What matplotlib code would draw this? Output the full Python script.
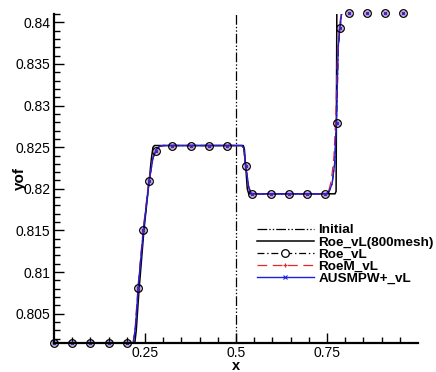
import numpy as np
import matplotlib
matplotlib.use("Agg")
import matplotlib.pyplot as plt
from matplotlib.lines import Line2D

plt.rcParams["font.family"] = ["Liberation Sans", "DejaVu Sans"]
plt.rcParams["lines.scale_dashes"] = False

# initial discontinuity
init_x = [0.5, 0.5]
init_y = [0.8015, 0.84115]

# Roe_vL on 800 cells
fine_x = [0.0, 0.222, 0.226, 0.233, 0.247, 0.262, 0.268, 0.272, 0.276,
          0.520, 0.523, 0.527, 0.531, 0.535, 0.772, 0.775, 0.776, 0.777, 1.0]
fine_y = [0.8015, 0.8015, 0.8030, 0.8075, 0.8150, 0.8212, 0.8238, 0.8250, 0.8252,
          0.8252, 0.8248, 0.8225, 0.8200, 0.8194, 0.8194, 0.8197, 0.8300, 0.84115, 0.84115]

# coarse mesh results
roe_x = [0.0, 0.218, 0.224, 0.232, 0.246, 0.261, 0.272, 0.280, 0.290, 0.300,
         0.516, 0.521, 0.527, 0.535, 0.541, 0.548, 0.748, 0.756, 0.764, 0.771,
         0.776, 0.781, 0.786, 0.790, 0.795, 1.0]
roe_y = [0.8015, 0.8015, 0.8034, 0.8084, 0.8151, 0.8208, 0.8237, 0.8246, 0.8251, 0.8252,
         0.8252, 0.8249, 0.8227, 0.8202, 0.8195, 0.8194, 0.8194, 0.8197, 0.8206, 0.8230,
         0.8279, 0.8370, 0.8393, 0.8410, 0.84115, 0.84115]

roem_x = [0.0, 0.217, 0.223, 0.231, 0.245, 0.260, 0.271, 0.279, 0.290, 0.300,
          0.516, 0.521, 0.527, 0.535, 0.541, 0.548, 0.747, 0.755, 0.762, 0.769,
          0.774, 0.779, 0.784, 0.789, 0.795, 1.0]
roem_y = [0.8015, 0.8015, 0.8033, 0.8084, 0.8151, 0.8208, 0.8236, 0.8247, 0.8251, 0.8252,
          0.8252, 0.8248, 0.8226, 0.8201, 0.8195, 0.8194, 0.8194, 0.8198, 0.8210, 0.8238,
          0.8285, 0.8365, 0.8395, 0.8410, 0.84115, 0.84115]

ausm_x = [0.0, 0.218, 0.224, 0.232, 0.246, 0.261, 0.272, 0.280, 0.290, 0.300,
          0.516, 0.521, 0.527, 0.535, 0.541, 0.548, 0.748, 0.756, 0.764, 0.771,
          0.776, 0.781, 0.786, 0.790, 0.795, 1.0]
ausm_y = [0.8015, 0.8015, 0.8035, 0.8085, 0.8152, 0.8208, 0.8237, 0.8247, 0.8251, 0.8252,
          0.8252, 0.8249, 0.8227, 0.8202, 0.8195, 0.8194, 0.8194, 0.8197, 0.8206, 0.8230,
          0.8280, 0.8372, 0.8395, 0.8410, 0.84115, 0.84115]

# symbol positions (Tecplot skips symbols by distance)
sym_x = [0.0, 0.05, 0.10, 0.15, 0.20, 0.230, 0.2455, 0.261, 0.280, 0.325,
         0.375, 0.425, 0.476, 0.527, 0.545, 0.595, 0.645, 0.695, 0.745, 0.777,
         0.786, 0.810, 0.860, 0.910, 0.960]
sym_y = [0.8015, 0.8015, 0.8015, 0.8015, 0.8015, 0.8081, 0.8151, 0.8209, 0.8246, 0.8252,
         0.8252, 0.8252, 0.8252, 0.8227, 0.8194, 0.8194, 0.8194, 0.8194, 0.8194, 0.8279,
         0.8393, 0.84115, 0.84115, 0.84115, 0.84115]

xticks = [0.25, 0.5, 0.75]
xticklabels = ["0.25", "0.5", "0.75"]
yticks = [0.805, 0.81, 0.815, 0.82, 0.825, 0.83, 0.835, 0.84]
yticklabels = ["0.805", "0.81", "0.815", "0.82", "0.825", "0.83", "0.835", "0.84"]
labels = ["Initial", "Roe_vL(800mesh)", "Roe_vL", "RoeM_vL", "AUSMPW+_vL"]

RED = "#e8262a"
BLUE = "#1f1fe0"
DASH_INIT = (0, (7, 1.5, 1, 1.5, 1, 1.5))
DASH_ROE = (0, (5, 2, 1, 2))
DASH_ROEM = (0, (7, 4))

W, H = 436, 372
fig = plt.figure(figsize=(W / 100, H / 100), dpi=100)
ax = fig.add_axes([54 / W, 1 - 343 / H, (418 - 54) / W, (343 - 14) / H])

ax.plot(init_x, init_y, color="black", lw=0.9, linestyle=DASH_INIT)
ax.plot(fine_x, fine_y, color="black", lw=1.1)
ax.plot(roe_x, roe_y, color="black", lw=0.9, linestyle=DASH_ROE)
ax.plot(roem_x, roem_y, color=RED, lw=0.9, linestyle=DASH_ROEM)
ax.plot(ausm_x, ausm_y, color=BLUE, lw=1.0)

ax.plot(sym_x, sym_y, "o", ms=5.5, mfc="none", mec="black", mew=0.9, clip_on=False)
ax.plot(sym_x, sym_y, "+", ms=3.5, mec=RED, mew=0.9, clip_on=False)
ax.plot(sym_x, sym_y, "x", ms=2.5, mec=BLUE, mew=0.8, clip_on=False)

ax.set_xlim(0, 1)
ax.set_ylim(0.80148, 0.8410)
ax.set_xticks(xticks)
ax.set_xticklabels(xticklabels)
ax.set_xticks(np.arange(0.05, 1.0, 0.05), minor=True)
ax.set_yticks(yticks)
ax.set_yticklabels(yticklabels)
ax.set_yticks(np.arange(0.802, 0.8411, 0.001), minor=True)

for s in ["top", "right"]:
    ax.spines[s].set_visible(False)
for s in ["left", "bottom"]:
    ax.spines[s].set_linewidth(1.6)
ax.tick_params(which="major", direction="in", length=7, width=1.0, labelsize=10, pad=2.5)
ax.tick_params(which="minor", direction="in", length=4, width=1.0)

fig.text(236 / W, 1 - 370 / H, "x", ha="center", va="baseline", fontsize=10.5, fontweight="bold")
fig.text(20 / W, 1 - 178 / H, "yof", ha="center", va="center", rotation=90,
         fontsize=11, fontweight="bold")

handles = [
    Line2D([], [], color="black", lw=0.9, linestyle=DASH_INIT),
    Line2D([], [], color="black", lw=1.1),
    Line2D([], [], color="black", lw=0.9, linestyle=DASH_ROE, marker="o", ms=5.5,
           mfc="white", mec="black", mew=0.9),
    Line2D([], [], color=RED, lw=0.9, linestyle=DASH_ROEM, marker="+", ms=3.5, mew=0.9),
    Line2D([], [], color=BLUE, lw=1.0, marker="x", ms=2.5, mew=0.8),
]
ax.legend(handles, labels, loc="upper left", bbox_to_anchor=(257 / W, 1 - 224 / H),
          bbox_transform=fig.transFigure, frameon=False, borderpad=0, borderaxespad=0,
          handlelength=4.2, handletextpad=0.35, labelspacing=-0.02, numpoints=1,
          prop={"weight": "bold", "size": 9.7})

fig.savefig("out.png", dpi=100)
